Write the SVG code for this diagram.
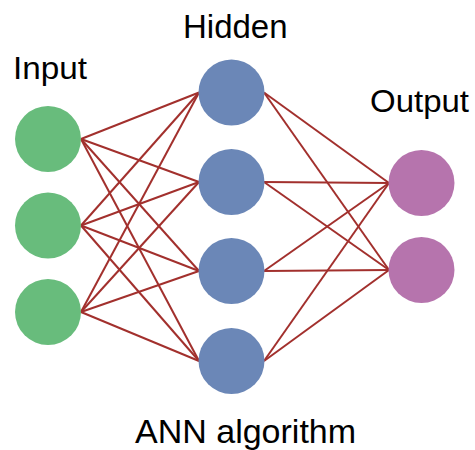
<svg xmlns="http://www.w3.org/2000/svg" width="475" height="450" viewBox="0 0 475 450">
<style>
.in{fill:#68bc7c}
.hid{fill:#6b87b7}
.out{fill:#b674ad}
.lbl{font-family:"Liberation Sans",Arial,sans-serif;fill:#000}
#edges line{stroke:#a2302d;stroke-width:2}
</style>
<rect width="475" height="450" fill="#fff"/>
<g id="edges">
<line x1="81" y1="139" x2="199" y2="92.5"/>
<line x1="81" y1="139" x2="199" y2="182"/>
<line x1="81" y1="139" x2="199" y2="271"/>
<line x1="81" y1="139" x2="199" y2="361"/>
<line x1="81" y1="225.5" x2="199" y2="92.5"/>
<line x1="81" y1="225.5" x2="199" y2="182"/>
<line x1="81" y1="225.5" x2="199" y2="271"/>
<line x1="81" y1="225.5" x2="199" y2="361"/>
<line x1="81" y1="312" x2="199" y2="92.5"/>
<line x1="81" y1="312" x2="199" y2="182"/>
<line x1="81" y1="312" x2="199" y2="271"/>
<line x1="81" y1="312" x2="199" y2="361"/>
<line x1="264" y1="92.5" x2="389" y2="183"/>
<line x1="264" y1="92.5" x2="389" y2="270"/>
<line x1="264" y1="182" x2="389" y2="183"/>
<line x1="264" y1="182" x2="389" y2="270"/>
<line x1="264" y1="271" x2="389" y2="183"/>
<line x1="264" y1="271" x2="389" y2="270"/>
<line x1="264" y1="361" x2="389" y2="183"/>
<line x1="264" y1="361" x2="389" y2="270"/>
</g>
<g id="input1"><circle class="in" cx="48" cy="139" r="33"/></g>
<g id="input2"><circle class="in" cx="48" cy="225.5" r="33"/></g>
<g id="input3"><circle class="in" cx="48" cy="312" r="33"/></g>
<g id="hidden1"><circle class="hid" cx="231.5" cy="92.5" r="33"/></g>
<g id="hidden2"><circle class="hid" cx="231.5" cy="182" r="33"/></g>
<g id="hidden3"><circle class="hid" cx="231.5" cy="271" r="33"/></g>
<g id="hidden4"><circle class="hid" cx="231.5" cy="361" r="33"/></g>
<g id="output1"><circle class="out" cx="421.5" cy="183" r="33"/></g>
<g id="output2"><circle class="out" cx="421.5" cy="270" r="33"/></g>
<g id="labels">
<text class="lbl" x="13" y="79" font-size="32" textLength="74" lengthAdjust="spacingAndGlyphs">Input</text>
<text class="lbl" x="183" y="38" font-size="33">Hidden</text>
<text class="lbl" x="370" y="112" font-size="32" textLength="99" lengthAdjust="spacingAndGlyphs">Output</text>
<text class="lbl" x="135" y="443" font-size="34">ANN algorithm</text>
</g>
</svg>
